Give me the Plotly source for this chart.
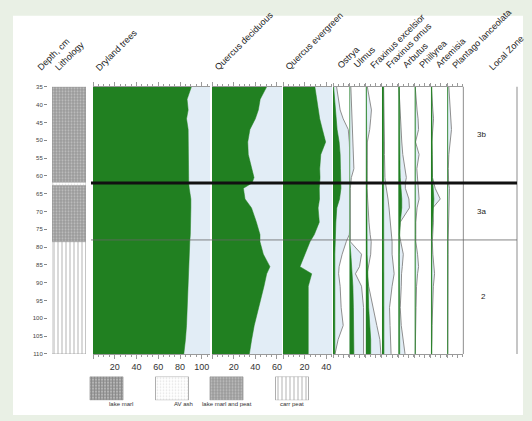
import plotly.graph_objects as go

W, H = 532, 421

# ---------------- data ----------------
DEPTHS = [35, 38.5, 41.5, 44, 47, 50.5, 54, 58, 60.5, 62, 63.5, 66.5, 69, 73,
          76.5, 78.5, 82, 85.5, 87.5, 91, 97, 102, 106, 110]

DRYLAND = [90.5, 86.5, 87.5, 86, 87.5, 87.5, 87.5, 87.5, 88, 88, 88.5, 90, 90, 90,
           89.5, 89, 88.5, 88, 88, 87.5, 87, 86, 85, 83.5]
Q_DECIDUOUS = [50.5, 44.5, 42.8, 40, 35, 33, 33.5, 36.5, 38.8, 37, 29, 30.5, 36.5, 41,
               44.3, 44.3, 47.4, 53.5, 50.5, 48, 42.8, 39, 36.6, 34.5]
Q_EVERGREEN = [29.5, 31, 32.7, 34, 36.5, 39.5, 35, 34, 34.3, 34, 33.6, 33.8, 32.5, 33.6,
               29, 25, 20.5, 15.7, 26.6, 23.4, 23.4, 23.4, 23.4, 23.4]

OSTRYA = [0.6, 1.8, 2.5, 3.2, 4, 6, 7, 7.3, 7.3, 7.3, 7.8, 6.4, 3.7, 2.8,
          2.3, 2.1, 1.8, 1.8, 1.8, 1.8, 1.8, 1.8, 1.8, 1.8]
OSTRYA_X = [3.5, 5, 7, 10, 15, 16, 17, 17, 17, 17, 17, 17, 17, 17,
            16, 13, 9, 6, 5.5, 7, 8, 10, 5, 2]
ULMUS = [0.4, 0.4, 0.4, 0.4, 0.4, 0.4, 0.4, 0.4, 0.4, 0.4, 0.4, 0.4, 0.4, 0.4,
         0.4, 0.5, 1.5, 2.5, 3, 3.5, 4, 4.3, 4.5, 4.5]
ULMUS_X = [1.5, 2, 2, 2.5, 2.5, 3, 4, 4.5, 2, 1.5, 1, 1, 1, 1,
           0.8, 1, 12, 10, 6, 12, 14, 14, 14, 14]
FRAX_EXC = [0.8, 0.8, 0.8, 0.8, 0.8, 0.8, 0.8, 0.8, 0.8, 0.8, 0.8, 0.8, 0.8, 0.8,
            0.8, 0.8, 1.5, 2, 2, 2.5, 3, 4, 5, 5]
FRAX_EXC_X = [1.7, 3.5, 5.7, 5, 4, 1.7, 1.5, 1.2, 1, 1, 1.5, 2, 2.3, 3.3,
              4.5, 5.5, 5, 3, 1.5, 3, 7, 11, 14, 15]
FRAX_ORN = [1.5, 1.5, 1.5, 1.5, 1.5, 1.5, 1.5, 1.5, 1.5, 1.5, 1.5, 1.5, 1.5, 1.5,
            1.5, 1.5, 1.5, 1.5, 1.5, 1.7, 1.8, 2, 2, 2]
FRAX_ORN_X = [1.7, 2, 2, 2, 2.3, 2.5, 2.5, 2.5, 3, 3.5, 4.5, 6, 7, 8.5,
              9.5, 10, 10, 11, 12, 10, 7.5, 8, 8.5, 9]
ARBUTUS = [1.2, 1.2, 1.2, 1.5, 1.5, 1.5, 1.5, 1.8, 2, 2.5, 3, 3.5, 3.5, 2,
           1.5, 1.2, 1.2, 1.2, 1.2, 1.2, 1.2, 1.2, 1.5, 1.5]
ARBUTUS_X = [0.7, 1.2, 1.7, 2.5, 3, 3.5, 4.5, 7, 8, 7, 7, 10.5, 11, 2,
             1, 2.5, 5, 4, 3.3, 3, 2, 3, 5, 6.7]
PHILLYREA = [0.8] * 24
PHILLYREA_X = [0.7, 1.5, 2.5, 3.5, 4, 1, 4.5, 2.3, 3, 3.8, 4.3, 4.5, 2.5, 1.3,
               1.3, 1.3, 3, 4, 3, 2, 1.5, 1.2, 1, 0.7]
ARTEMISIA = [1, 1, 1, 1, 1, 1, 1, 1.2, 1.5, 2, 2.5, 3, 2.5, 1.5,
             1.2, 1, 1, 1, 1, 1, 1, 1, 1, 1]
ARTEMISIA_X = [0.5, 1, 2, 2.7, 2, 1, 1.3, 1.5, 1.7, 3, 4.3, 9.3, 2, 2.5,
               2, 1.5, 2, 3, 3.7, 2.5, 1.5, 1.2, 1, 0.5]
PLANTAGO = [0.6] * 24
PLANTAGO_X = [1.7, 2.5, 2.7, 3.5, 4.3, 3, 1.7, 1.2, 1, 1.5, 2.3, 2, 1.5, 1.2,
              1, 1, 1, 1, 1, 1, 1, 0.8, 0.7, 0.7]

MAIN_NAMES = ["Dryland trees", "Quercus deciduous", "Quercus evergreen"]
MAIN_TICKS = [[20, 40, 60, 80, 100], [20, 40, 60], [20, 40]]
SMALL_NAMES = ["Ostrya", "Ulmus", "Fraxinus excelsior", "Fraxinus ornus",
               "Arbutus", "Phillyrea", "Artemisia", "Plantago lanceolata"]

DEPTH_TICKS = [35, 40, 45, 50, 55, 60, 65, 70, 75, 80, 85, 90, 95, 100, 105, 110]

LITH_TOP = [35, 61.8, 62.8, 78.5]
LITH_BOT = [61.8, 62.8, 78.5, 110]
LITH_TYPE = ["lake marl and peat", "AV ash", "lake marl and peat", "carr peat"]
LEGEND_TYPES = ["lake marl", "AV ash", "lake marl and peat", "carr peat"]

ZONE_TOP = [35, 62, 78]
ZONE_BOT = [62, 78, 110]
ZONE_LABELS = ["3b", "3a", "2"]

# ---------------- style ----------------
GREEN = "#218021"
LIGHTBLUE = "#e2edf6"
GRAYLINE = "#8e8e8e"
AXCOL = "#9a9a9a"
FONT = "Liberation Sans, Arial, sans-serif"

PATTERNS = {
    "lake marl": dict(shape="+", fgcolor="#5a5a5a", bgcolor="#b4b4b4", size=3, solidity=0.5),
    "AV ash": dict(shape=".", fgcolor="#c8c8c8", bgcolor="#ffffff", size=3, solidity=0.25),
    "lake marl and peat": dict(shape=".", fgcolor="#e8e8e8", bgcolor="#999999", size=3, solidity=0.35),
    "carr peat": dict(shape="|", fgcolor="#666666", bgcolor="#ffffff", size=4, solidity=0.25),
}


def px(x):
    return x / W


def py(y):
    return 1 - y / H


fig = go.Figure()
layout = dict(
    width=W, height=H, margin=dict(l=0, r=0, t=0, b=0),
    paper_bgcolor="#e9f0e5", plot_bgcolor="rgba(0,0,0,0)",
    showlegend=False, barmode="overlay",
    font=dict(family=FONT, color="#333"),
)
shapes = [dict(type="rect", xref="paper", yref="paper", x0=px(13), x1=px(523),
               y0=py(418), y1=py(13), fillcolor="white", line=dict(width=0), layer="below")]
annotations = []

YDOM = [py(356), py(85)]
layout["yaxis"] = dict(domain=YDOM, range=[110, 35], anchor="free", position=px(47),
                       tickvals=DEPTH_TICKS, ticks="outside", ticklen=3, tickcolor="#888",
                       showline=False, showgrid=False, zeroline=False,
                       tickfont=dict(size=6, color="#444"))

# lithology column (x1)
layout["xaxis"] = dict(domain=[px(52), px(86)], range=[0, 1], anchor="y", visible=False)
for t, b, k in zip(LITH_TOP, LITH_BOT, LITH_TYPE):
    fig.add_trace(go.Bar(orientation="h", x=[1], y=[(t + b) / 2], width=[b - t], base=0,
                         xaxis="x", yaxis="y",
                         marker=dict(color=PATTERNS[k]["bgcolor"], pattern=PATTERNS[k],
                                     line=dict(color="#999", width=0.6))))

# main panels
main_px = [(93, 210, 1.0875), (212, 282, 1.083), (283, 332, 1.08)]
main_vals = [DRYLAND, Q_DECIDUOUS, Q_EVERGREEN]
ax = 2
for (l, r, sc), vals, ticks, name in zip(main_px, main_vals, MAIN_TICKS, MAIN_NAMES):
    xmax = (r - l) / sc
    layout[f"xaxis{ax}"] = dict(
        domain=[px(l), px(r)], range=[0, xmax], anchor="y", side="bottom",
        showline=True, linecolor=AXCOL, linewidth=1, mirror="ticks",
        ticks="outside", ticklen=4, tickcolor=AXCOL, tickvals=[0] + ticks,
        ticktext=[""] + [str(v) for v in ticks],
        showgrid=False, zeroline=False, tickfont=dict(size=9, color="#333"),
        minor=dict(dtick=5, tick0=0, ticks="outside", ticklen=2, tickcolor=AXCOL))
    shapes.append(dict(type="rect", xref=f"x{ax} domain", yref="y", x0=0, x1=1,
                       y0=35, y1=110, fillcolor=LIGHTBLUE, line=dict(width=0), layer="below"))
    fig.add_trace(go.Scatter(x=vals, y=DEPTHS, xaxis=f"x{ax}", yaxis="y", mode="lines",
                             fill="tozerox", fillcolor=GREEN,
                             line=dict(color=GREEN, width=0.5)))
    annotations.append(dict(text=name, x=px(l - 2), y=py(73), xref="paper", yref="paper",
                            textangle=-45, xanchor="left", yanchor="bottom", showarrow=False,
                            font=dict(size=9, color="#222")))
    ax += 1

# small panels
small_vals = [OSTRYA, ULMUS, FRAX_EXC, FRAX_ORN, ARBUTUS, PHILLYREA, ARTEMISIA, PLANTAGO]
small_exag = [OSTRYA_X, ULMUS_X, FRAX_EXC_X, FRAX_ORN_X, ARBUTUS_X, PHILLYREA_X,
              ARTEMISIA_X, PLANTAGO_X]
SW = 16.3
for i, (vals, ex, name) in enumerate(zip(small_vals, small_exag, SMALL_NAMES)):
    l = 333 + i * SW
    r = l + SW
    layout[f"xaxis{ax}"] = dict(
        domain=[px(l), px(r)], range=[0, 16], anchor="y", side="bottom",
        showline=True, linecolor=AXCOL, linewidth=1, mirror="ticks",
        ticks="outside", ticklen=3, tickcolor=AXCOL, tickvals=[0, 10],
        showticklabels=False, showgrid=False, zeroline=False,
        minor=dict(dtick=5, tick0=0, ticks="outside", ticklen=2, tickcolor=AXCOL))
    fig.add_trace(go.Scatter(x=ex, y=DEPTHS, xaxis=f"x{ax}", yaxis="y", mode="lines",
                             fill="tozerox", fillcolor=LIGHTBLUE,
                             line=dict(color=GRAYLINE, width=1)))
    fig.add_trace(go.Scatter(x=vals, y=DEPTHS, xaxis=f"x{ax}", yaxis="y", mode="lines",
                             fill="tozerox", fillcolor=GREEN,
                             line=dict(color=GREEN, width=0.6)))
    annotations.append(dict(text=name, x=px(l), y=py(71), xref="paper", yref="paper",
                            textangle=-45, xanchor="left", yanchor="bottom", showarrow=False,
                            font=dict(size=9, color="#222")))
    ax += 1

# panel right edge + zone column lines
for xx in (333 + 8 * SW, 517):
    shapes.append(dict(type="line", xref="paper", yref="y", x0=px(xx), x1=px(xx),
                       y0=33, y1=110.5, line=dict(color="#a0a0a0", width=1.2)))

# zone boundaries
for i, b in enumerate(ZONE_BOT[:-1]):
    shapes.append(dict(type="line", xref="paper", yref="y", x0=px(91), x1=px(517),
                       y0=b, y1=b, layer="above",
                       line=dict(color="#111" if i == 0 else "#666", width=3 if i == 0 else 0.8)))
for t, b, lab in zip(ZONE_TOP, ZONE_BOT, ZONE_LABELS):
    annotations.append(dict(text=lab, x=px(488), y=(t + b) / 2, xref="paper", yref="y",
                            showarrow=False, font=dict(size=8, color="#222")))

# header labels for depth / lithology / zone
for txt, x0 in (("Depth, cm", 33), ("Lithology", 50), ("Local Zone", 484)):
    annotations.append(dict(text=txt, x=px(x0), y=py(73), xref="paper", yref="paper",
                            textangle=-45, xanchor="left", yanchor="bottom", showarrow=False,
                            font=dict(size=9, color="#222")))

# lithology legend
LEGEND_X = [106.5, 172, 226.5, 292]
layout[f"xaxis{ax}"] = dict(domain=[0, 1], range=[0, W], anchor="y2", visible=False)
layout["yaxis2"] = dict(domain=[py(403), py(379)], range=[0, 1], anchor=f"x{ax}", visible=False)
for k, cx in zip(LEGEND_TYPES, LEGEND_X):
    fig.add_trace(go.Bar(x=[cx], y=[1], width=[33], base=0, xaxis=f"x{ax}", yaxis="y2",
                         marker=dict(color=PATTERNS[k]["bgcolor"], pattern=PATTERNS[k],
                                     line=dict(color="#999", width=0.8))))
    annotations.append(dict(text=k, x=px(cx), y=py(412), xref="paper", yref="paper",
                            showarrow=False, font=dict(size=6, color="#333")))

layout["shapes"] = shapes
layout["annotations"] = annotations
fig.update_layout(**layout)
fig.write_html("out.html", config={"displayModeBar": False})
